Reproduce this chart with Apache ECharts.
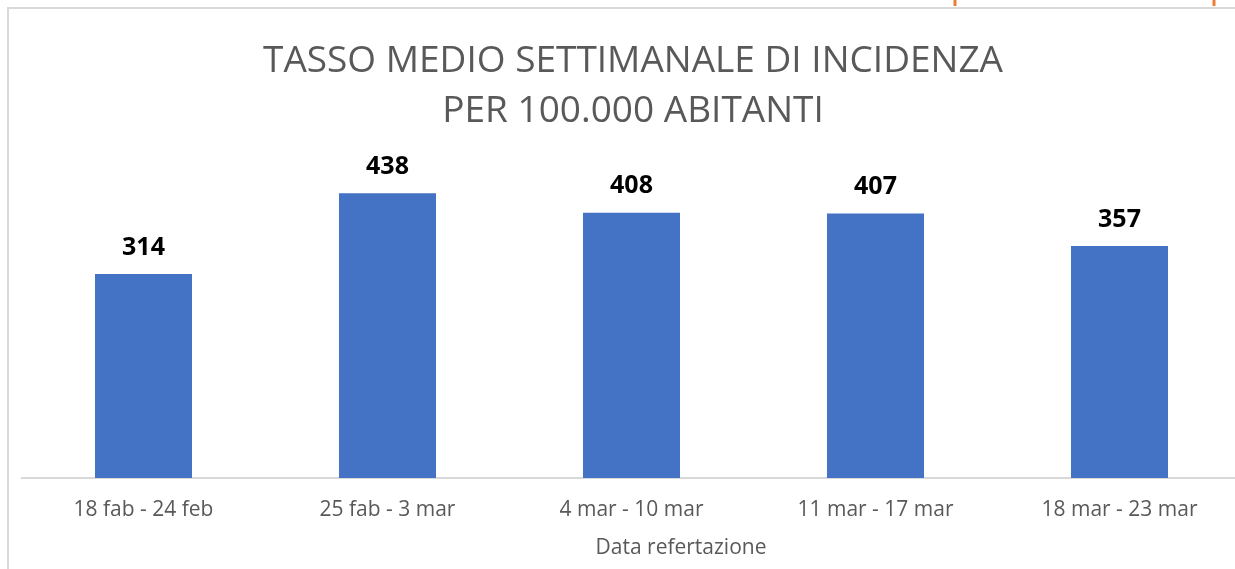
<!DOCTYPE html>
<html>
<head>
<meta charset="utf-8">
<style>
  html, body { margin: 0; padding: 0; background: #fff; overflow: hidden; }
  #chart { width: 1250px; height: 569px; }
</style>
<script src="https://cdn.jsdelivr.net/npm/echarts@6/dist/echarts.min.js"></script>
</head>
<body>
<div id="chart"></div>
<script>
const categories = ['18 fab - 24 feb', '25 fab - 3 mar', '4 mar - 10 mar', '11 mar - 17 mar', '18 mar - 23 mar'];
const values = [314, 438, 408, 407, 357];
const titleText = 'TASSO MEDIO SETTIMANALE DI INCIDENZA\nPER 100.000 ABITANTI';
const axisTitle = 'Data refertazione';

const chart = echarts.init(document.getElementById('chart'), null, { renderer: 'canvas' });
chart.setOption({
  backgroundColor: '#ffffff',
  animation: false,
  title: {
    text: titleText,
    left: 628,
    textAlign: 'center',
    top: 31,
    textStyle: {
      fontFamily: 'Open Sans',
      fontWeight: 'normal',
      fontSize: 37,
      lineHeight: 50,
      color: '#595959'
    }
  },
  grid: { left: 21.5, width: 1220, top: 153, bottom: 91, containLabel: false },
  xAxis: {
    type: 'category',
    data: categories,
    axisLine: { lineStyle: { color: '#d9d9d9', width: 2 } },
    axisTick: { show: false },
    axisLabel: { color: '#595959', fontFamily: 'Open Sans', fontSize: 21, margin: 22 }
  },
  yAxis: {
    type: 'value',
    min: 0,
    max: 500,
    show: false,
    splitLine: { show: false }
  },
  series: [{
    type: 'bar',
    data: values,
    barWidth: 97,
    itemStyle: { color: '#4472c4' },
    label: {
      show: true,
      position: 'top',
      distance: 14,
      color: '#000000',
      fontFamily: 'Open Sans',
      fontWeight: 'bold',
      fontSize: 25
    }
  }],
  graphic: [
    {
      type: 'rect',
      shape: { x: 8, y: 8, width: 1260, height: 580 },
      style: { fill: null, stroke: '#d9d9d9', lineWidth: 2 },
      silent: true
    },
    {
      type: 'rect',
      shape: { x: 953.5, y: 0, width: 3, height: 6 },
      style: { fill: '#ed7d31' },
      silent: true
    },
    {
      type: 'rect',
      shape: { x: 1212.5, y: 0, width: 3, height: 6 },
      style: { fill: '#ed7d31' },
      silent: true
    },
    {
      type: 'text',
      x: 681,
      y: 548,
      style: {
        text: axisTitle,
        fill: '#595959',
        font: '21px "Open Sans"',
        textAlign: 'center',
        textVerticalAlign: 'middle'
      },
      silent: true
    }
  ]
});
</script>
</body>
</html>
